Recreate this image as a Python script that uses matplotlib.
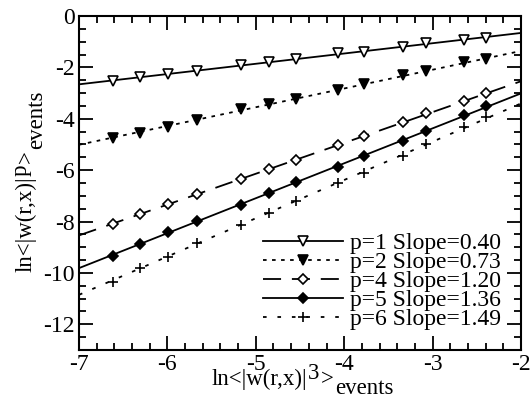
import numpy as np
import matplotlib
matplotlib.use("Agg")
import matplotlib.pyplot as plt
from matplotlib.ticker import MultipleLocator

plt.rcParams['font.family'] = ['Liberation Serif', 'DejaVu Serif']
plt.rcParams['axes.unicode_minus'] = False

# ln<|w|^3> (same abscissa for every p)
x_vals = [-6.62, -6.31, -5.99, -5.67, -5.17, -4.85, -4.55, -4.07, -3.78, -3.33, -3.07, -2.65, -2.40]

# ln<|w|^p> for each p
y_p1 = [-2.52, -2.39, -2.26, -2.13, -1.91, -1.80, -1.69, -1.45, -1.39, -1.19, -1.06, -0.93, -0.84]
y_p2 = [-4.76, -4.54, -4.31, -4.05, -3.62, -3.42, -3.23, -2.88, -2.66, -2.30, -2.13, -1.80, -1.69]
y_p4 = [-8.11, -7.72, -7.33, -6.94, -6.36, -5.97, -5.60, -5.02, -4.67, -4.14, -3.79, -3.31, -3.01]
y_p5 = [-9.33, -8.88, -8.42, -7.98, -7.35, -6.90, -6.45, -5.89, -5.45, -4.85, -4.46, -3.85, -3.50]
y_p6 = [-10.34, -9.79, -9.37, -8.84, -8.13, -7.65, -7.20, -6.51, -6.10, -5.44, -4.98, -4.33, -3.92]

p_values = [1, 2, 4, 5, 6]
slopes = [0.40, 0.73, 1.20, 1.36, 1.49]
series = [y_p1, y_p2, y_p4, y_p5, y_p6]

# marker, facecolor, markersize, linestyle
styles = [
    ('v', 'white', 7, '-'),
    ('v', 'black', 7, (0, (2, 3))),
    ('D', 'white', 5, (0, (10, 6))),
    ('D', 'black', 5, '-'),
    ('+', 'black', 7.5, (0, (2, 6))),
]

fig = plt.figure(figsize=(5.32, 3.98), dpi=100)
ax = fig.add_axes([79 / 532, 1 - 350 / 398, 442 / 532, 334 / 398])

xlim = (-7, -2)
x = np.array(x_vals)
xfit = np.array(xlim)
handles = []
for p, s, y, (mk, fc, ms, ls) in zip(p_values, slopes, series, styles):
    y = np.array(y)
    b = y.mean() - s * x.mean()
    ax.plot(xfit, s * xfit + b, color='black', lw=1.3, ls=ls, zorder=2)
    ax.plot(x, y, ls='none', marker=mk, ms=ms, mfc=fc, mec='black', mew=1.2, zorder=3)
    h, = ax.plot([], [], color='black', lw=1.3, ls=ls, marker=mk, ms=ms,
                 mfc=fc, mec='black', mew=1.2, label=f'p={p} Slope={s:.2f}')
    handles.append(h)

ax.set_xlim(*xlim)
ax.set_ylim(-13, 0)
ax.xaxis.set_major_locator(MultipleLocator(1))
ax.xaxis.set_minor_locator(MultipleLocator(0.2))
ax.yaxis.set_major_locator(MultipleLocator(2))
ax.yaxis.set_minor_locator(MultipleLocator(0.5))
ax.tick_params(which='both', direction='in', top=True, right=True, width=1.3, labelsize=17)
ax.tick_params(which='major', length=10, pad=3)
ax.tick_params(which='minor', length=5)
for sp in ax.spines.values():
    sp.set_linewidth(1.5)

leg = ax.legend(handles=handles, loc='lower right', frameon=False, fontsize=17,
                numpoints=1, handlelength=3.4, handletextpad=0.3, labelspacing=-0.11,
                borderpad=0, borderaxespad=0,
                bbox_to_anchor=(501 / 532, 1 - 330 / 398), bbox_transform=fig.transFigure)

# x label: ln<|w(r,x)|^3>_events with full-size pieces
fs = 16.5
t1 = fig.text(212 / 532, 1 - 385 / 398, 'ln<|w(r,x)|', fontsize=fs, va='baseline', ha='left')
t2 = ax.annotate('3', xy=(1, 0), xycoords=t1, xytext=(0.5, 4), textcoords='offset points',
                 fontsize=fs, va='bottom', ha='left')
t3 = ax.annotate('>', xy=(1, 0), xycoords=t2, xytext=(0.5, -4), textcoords='offset points',
                 fontsize=fs, va='bottom', ha='left')
ax.annotate('events', xy=(1, 0), xycoords=t3, xytext=(1, -6.5), textcoords='offset points',
            fontsize=fs, va='bottom', ha='left')

# y label, rotated
u1 = fig.text(37 / 532, 1 - 272 / 398, 'ln<|w(r,x)|', fontsize=fs, rotation=90,
              va='bottom', ha='right')
u2 = ax.annotate('p', xy=(1, 1), xycoords=u1, xytext=(-4, 0.5), textcoords='offset points',
                 fontsize=fs, rotation=90, va='bottom', ha='right')
u3 = ax.annotate('>', xy=(1, 1), xycoords=u2, xytext=(4, 0.5), textcoords='offset points',
                 fontsize=fs, rotation=90, va='bottom', ha='right')
ax.annotate('events', xy=(1, 1), xycoords=u3, xytext=(7, 1), textcoords='offset points',
            fontsize=fs, rotation=90, va='bottom', ha='right')

fig.savefig('out.png', dpi=100)
